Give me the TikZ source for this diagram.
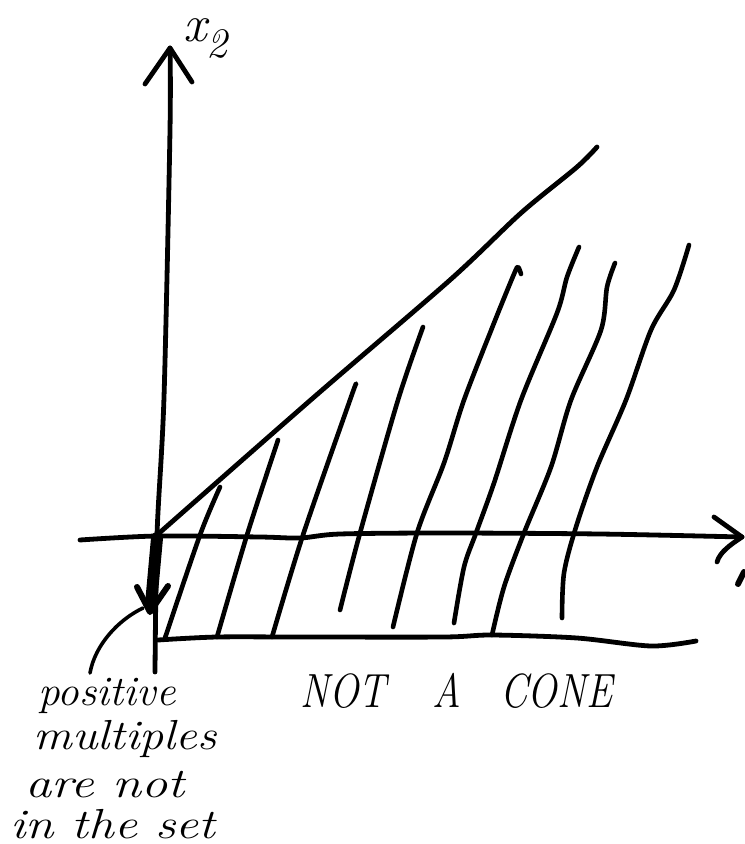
\documentclass[tikz,border=0pt]{standalone}
\begin{document}
\begin{tikzpicture}[x=0.5pt,y=-0.5pt, line cap=round, line join=round,
  ink/.style={line width=2.4pt},
  hatch/.style={line width=2.3pt},
  hand/.style={font=\fontsize{21}{24}\selectfont\itshape, inner sep=0pt, anchor=base west},
  caps/.style={font=\fontsize{24}{26}\selectfont\itshape, inner sep=0pt, anchor=base west}]
\useasboundingbox (0,0) rectangle (744,844);
% axes
\coordinate (O) at (157,536);
\draw[ink] plot[smooth] coordinates {(155,672) (157,535) (164,397) (170,130) (170,48)};
\draw[ink] (145,84) -- (170,48) -- (192,82);
\draw[ink] plot[smooth] coordinates {(80,540) (157,536) (260,537) (300,538) (340,534) (444,533) (600,534) (742,537)};
\draw[ink] (714,517) -- (742,537) .. controls (730,545) and (720,552) .. (717,562);
\draw[line width=3pt] (744,572) -- (738,584);
% cone boundary
\draw[ink] plot[smooth] coordinates {(157,535) (313,398) (450,280) (521,213) (577,167) (597,147)};
% bottom boundary
\draw[ink] plot[smooth] coordinates {(158,640) (217,637) (300,637) (444,637) (492,635) (577,638) (651,646) (696,641)};
% hatching
\draw[hatch] plot[smooth] coordinates {(220,487) (200,535) (165,638)};
\draw[hatch] plot[smooth] coordinates {(278,440) (247,535) (217,637)};
\draw[hatch] plot[smooth] coordinates {(356,384) (350,400) (303,535) (272,637)};
\draw[hatch] plot[smooth] coordinates {(423,327) (398,400) (360,533) (340,610)};
\draw[hatch] plot[smooth] coordinates {(521,274) (518,267) (514,274) (494,323) (464,400) (444,463) (417,533) (393,627)};
\draw[hatch] plot[smooth] coordinates {(579,247) (567,277) (557,313) (521,400) (494,483) (476,533) (464,567) (454,623)};
\draw[hatch] plot[smooth] coordinates {(615,263) (607,287) (601,330) (571,400) (551,467) (524,533) (504,587) (492,635)};
\draw[hatch] plot[smooth] coordinates {(689,245) (674,290) (651,330) (626,400) (597,467) (576,527) (564,573) (562,618)};
% thick downward arrow
\draw[line width=6pt] (157,538) -- (151,604);
\draw[line width=3pt] (137,587) -- (150,612) -- (168,586);
% leader
\draw[line width=1.8pt] (143,608) .. controls (118,620) and (95,645) .. (90,673);
% labels
\node[font=\fontsize{26}{26}\selectfont\itshape, inner sep=0pt, anchor=base west] (x2) at (183,42) {x\raisebox{-0.3em}{\fontsize{21}{21}\selectfont 2}};
\node[hand] (t1) at (38,705) {\scalebox{1.03}[1]{positive}};
\node[hand] (t2) at (33,749) {\scalebox{1.15}[1]{multiples}};
\node[hand] (t3) at (25,797) {\scalebox{1.25}[1]{are not}};
\node[hand] (t4) at (10,838) {\scalebox{1.22}[1]{in the set}};
\node[caps] (n1) at (300,707) {\scalebox{0.82}[1]{NOT}};
\node[caps] (n2) at (432,707) {\scalebox{0.82}[1]{A}};
\node[caps] (n3) at (500,707) {\scalebox{0.82}[1]{CONE}};
\end{tikzpicture}
\end{document}
